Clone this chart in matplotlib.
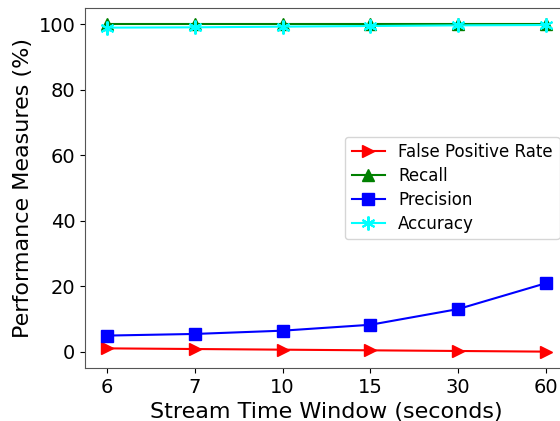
import matplotlib
matplotlib.use('Agg')
import matplotlib.pyplot as plt

windows = ['6', '7', '10', '15', '30', '60']
fpr = [1.1, 0.9, 0.7, 0.5, 0.3, 0.1]
recall = [100.0, 100.0, 100.0, 100.0, 100.0, 100.0]
precision = [5.0, 5.5, 6.5, 8.3, 13.1, 21.0]
accuracy = [99.0, 99.1, 99.3, 99.5, 99.7, 99.8]

fig = plt.figure(figsize=(5.6, 4.21), dpi=100)
ax = fig.add_axes([85 / 560, 53 / 421, 483 / 560, 360 / 421])
x = range(len(windows))

ax.plot(x, fpr, color='red', marker='>', markersize=9, linewidth=1.5, label='False Positive Rate')
ax.plot(x, recall, color='green', marker='^', markersize=9, linewidth=1.5, label='Recall')
ax.plot(x, precision, color='blue', marker='s', markersize=8, linewidth=1.5, label='Precision')
# asterisk marker, drawn with lines
ax.plot(x, accuracy, color='cyan', marker=(6, 2, 0), markersize=10, markeredgewidth=1.5,
        linewidth=1.5, label='Accuracy')

ax.set_xticks(list(x))
ax.set_xticklabels(windows)
ax.tick_params(labelsize=14)
ax.set_xlabel('Stream Time Window (seconds)', fontsize=16)
ax.set_ylabel('Performance Measures (%)', fontsize=16)
for s in ax.spines.values():
    s.set_color('#555555')
ax.legend(loc='center right', fontsize=12, labelspacing=0.35)

plt.savefig('out.png', dpi=100)
